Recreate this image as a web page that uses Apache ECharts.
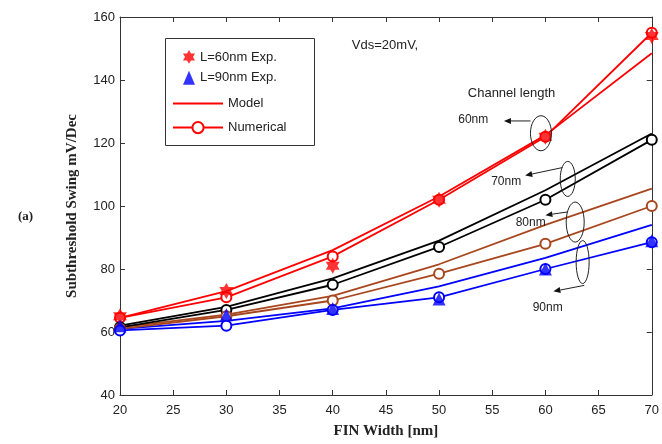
<!DOCTYPE html>
<html>
<head>
<meta charset="utf-8">
<script src="https://cdn.jsdelivr.net/npm/echarts@6/dist/echarts.min.js"></script>
<style>
  html, body { margin: 0; padding: 0; background: #ffffff; }
  #chart { width: 662px; height: 444px; }
</style>
</head>
<body>
<div id="chart"></div>
<script>
// Fin widths (nm) at which every curve is sampled
const finWidths = [20, 30, 40, 50, 60, 70];

// Measured subthreshold swing (mV/dec)
const exp60 = [65, 73, 81, 102, 122, 154];
const exp90 = [62, 65.5, 67.5, 70.5, 80, 89];

// Analytical model, one array per channel length
const model60 = [64.5, 73, 86, 103, 122.5, 148.5];
const model70 = [62, 68, 77, 89, 105, 123];
const model80 = [61.5, 65.5, 71.5, 81.5, 94, 105.5];
const model90 = [61, 63.5, 67.5, 74.5, 83.5, 94];

// Numerical simulation, one array per channel length
const num60 = [64.5, 71, 84, 102, 122, 155];
const num70 = [61.5, 67, 75, 87, 102, 121];
const num80 = [61, 65, 70, 78.5, 88, 100];
const num90 = [60.5, 62, 67, 71, 80, 88.5];

// Axis ranges and tick steps
const xRange = [20, 70];
const xStep = 5;
const yRange = [40, 160];
const yStep = 20;

// Channel-length callouts: label, ellipse centre (data coords), arrow start/end (data coords), label anchor
const callouts = [
  { text: '60nm', centre: [59.58, 123.1], rx: 10.5, ry: 17.5, from: [58.6, 127.0], to: [56.1, 127.0], label: [51.8, 127.3] },
  { text: '70nm', centre: [62.1, 108.6], rx: 7.5, ry: 17.5, from: [61.6, 112.2], to: [58.1, 109.7], label: [54.9, 107.8] },
  { text: '80nm', centre: [62.8, 94.9], rx: 9, ry: 20, from: [62.05, 98.1], to: [60.0, 97.1], label: [57.2, 94.6] },
  { text: '90nm', centre: [63.5, 82.2], rx: 6.5, ry: 21.5, from: [63.65, 74.8], to: [60.75, 72.9], label: [58.8, 67.6] }
];

const RED = '#ff0000';
const BLACK = '#000000';
const BROWN = '#a8461e';
const BLUE = '#0000ff';

const pairs = ys => finWidths.map((w, i) => [w, ys[i]]);

const STAR = 'path://M0,-10L2.887,-5L8.66,-5L5.774,0L8.66,5L2.887,5L0,10L-2.887,5L-8.66,5L-5.774,0L-8.66,-5L-2.887,-5Z';

function modelSeries(name, ys, color) {
  return {
    name: name, type: 'line', data: pairs(ys), showSymbol: false, symbol: 'none',
    lineStyle: { color: color, width: 1.8 }, itemStyle: { color: color },
    z: 2, silent: true
  };
}
function numSeries(name, ys, color) {
  return {
    name: name, type: 'line', data: pairs(ys), symbol: 'emptyCircle', symbolSize: 10,
    lineStyle: { color: color, width: 1.8 },
    itemStyle: { color: color, borderColor: color, borderWidth: 1.4 },
    z: 3, silent: true
  };
}

const sansFont = 'Liberation Sans, Arial, sans-serif';
const serifFont = 'Liberation Serif, Times New Roman, serif';

const axisLineStyle = { color: '#333333', width: 1 };

const chart = echarts.init(document.getElementById('chart'), null, { renderer: 'canvas' });

const option = {
  animation: false,
  backgroundColor: '#ffffff',
  grid: { left: 120, right: 7, top: 17, bottom: 46, containLabel: false },
  legend: [
    {
      data: ['L=60nm Exp.', 'L=90nm Exp.'],
      orient: 'vertical', left: 178, top: 45,
      itemWidth: 12, itemHeight: 14, itemGap: 7,
      textStyle: { fontFamily: sansFont, fontSize: 13, color: '#222222' },
      selectedMode: false
    },
    {
      data: [
        { name: 'Model', itemStyle: { opacity: 0 } },
        'Numerical'
      ],
      orient: 'vertical', left: 167, top: 92,
      itemWidth: 50, itemHeight: 14, itemGap: 11,
      textStyle: { fontFamily: sansFont, fontSize: 13, color: '#222222' },
      selectedMode: false
    }
  ],
  xAxis: [
    {
      type: 'value', min: xRange[0], max: xRange[1], interval: xStep,
      name: 'FIN Width [nm]', nameLocation: 'middle', nameGap: 29,
      nameTextStyle: { fontFamily: serifFont, fontWeight: 'bold', fontSize: 15, color: '#222222' },
      axisLine: { show: true, lineStyle: axisLineStyle },
      axisTick: { show: true, inside: true, length: 5, lineStyle: axisLineStyle },
      axisLabel: { fontFamily: sansFont, fontSize: 13, color: '#222222', margin: 9 },
      splitLine: { show: false }
    },
    {
      type: 'value', position: 'top', min: xRange[0], max: xRange[1], interval: xStep,
      axisLine: { show: true, lineStyle: axisLineStyle },
      axisTick: { show: true, inside: true, length: 5, lineStyle: axisLineStyle },
      axisLabel: { show: false }, splitLine: { show: false }
    }
  ],
  yAxis: [
    {
      type: 'value', min: yRange[0], max: yRange[1], interval: yStep,
      name: 'Subthreshold Swing mV/Dec', nameLocation: 'middle', nameGap: 40,
      nameTextStyle: { fontFamily: serifFont, fontWeight: 'bold', fontSize: 15, color: '#222222' },
      axisLine: { show: true, lineStyle: axisLineStyle },
      axisTick: { show: true, inside: true, length: 5, lineStyle: axisLineStyle },
      axisLabel: { fontFamily: sansFont, fontSize: 13, color: '#222222', margin: 5 },
      splitLine: { show: false }
    },
    {
      type: 'value', position: 'right', min: yRange[0], max: yRange[1], interval: yStep,
      axisLine: { show: true, lineStyle: axisLineStyle },
      axisTick: { show: true, inside: true, length: 5, lineStyle: axisLineStyle },
      axisLabel: { show: false }, splitLine: { show: false }
    }
  ],
  series: [
    modelSeries('Model', model60, RED),
    modelSeries('Model 70nm', model70, BLACK),
    modelSeries('Model 80nm', model80, BROWN),
    modelSeries('Model 90nm', model90, BLUE),
    numSeries('Numerical', num60, RED),
    numSeries('Numerical 70nm', num70, BLACK),
    numSeries('Numerical 80nm', num80, BROWN),
    numSeries('Numerical 90nm', num90, BLUE),
    {
      name: 'L=60nm Exp.', type: 'scatter', data: pairs(exp60),
      symbol: STAR, symbolKeepAspect: true, symbolSize: 16,
      itemStyle: { color: RED }, z: 5, silent: true
    },
    {
      name: 'L=90nm Exp.', type: 'scatter', data: pairs(exp90),
      symbol: 'triangle', symbolSize: 13,
      itemStyle: { color: BLUE }, z: 5, silent: true
    }
  ]
};

chart.setOption(option);

// Annotations: legend frame, condition text, channel-length callouts
const toPx = p => chart.convertToPixel({ gridIndex: 0 }, p);
const graphics = [];

graphics.push({
  type: 'rect', shape: { x: 165.5, y: 38.5, width: 149, height: 107 },
  style: { fill: 'none', stroke: '#333333', lineWidth: 1 }, z: 1
});

graphics.push({
  type: 'text', left: 18, top: 210,
  style: { text: '(a)', font: 'bold 13px ' + serifFont, fill: '#222222' }
});

const vdsPos = toPx([41.8, 150.9]);
graphics.push({
  type: 'text', x: vdsPos[0], y: vdsPos[1],
  style: { text: 'Vds=20mV,', font: '13px ' + sansFont, fill: '#222222', verticalAlign: 'middle' }
});
const chPos = toPx([52.7, 135.8]);
graphics.push({
  type: 'text', x: chPos[0], y: chPos[1],
  style: { text: 'Channel length', font: '13px ' + sansFont, fill: '#222222', verticalAlign: 'middle' }
});

callouts.forEach(c => {
  const ctr = toPx(c.centre);
  graphics.push({
    type: 'ellipse', shape: { cx: ctr[0], cy: ctr[1], rx: c.rx, ry: c.ry },
    style: { fill: 'none', stroke: '#222222', lineWidth: 1 }, z: 10
  });
  const a = toPx(c.from);
  const b = toPx(c.to);
  const ang = Math.atan2(b[1] - a[1], b[0] - a[0]);
  const hl = 7, hw = 3;
  const bx = b[0] - hl * Math.cos(ang), by = b[1] - hl * Math.sin(ang);
  graphics.push({
    type: 'polyline', shape: { points: [a, [bx, by]] },
    style: { stroke: '#222222', lineWidth: 1, fill: 'none' }, z: 10
  });
  graphics.push({
    type: 'polygon',
    shape: { points: [
      b,
      [bx + hw * Math.sin(ang), by - hw * Math.cos(ang)],
      [bx - hw * Math.sin(ang), by + hw * Math.cos(ang)]
    ] },
    style: { fill: '#111111' }, z: 10
  });
  const lp = toPx(c.label);
  graphics.push({
    type: 'text', x: lp[0], y: lp[1],
    style: { text: c.text, font: '12px ' + sansFont, fill: '#222222', verticalAlign: 'middle' }, z: 10
  });
});

chart.setOption({ graphic: graphics });
</script>
</body>
</html>
